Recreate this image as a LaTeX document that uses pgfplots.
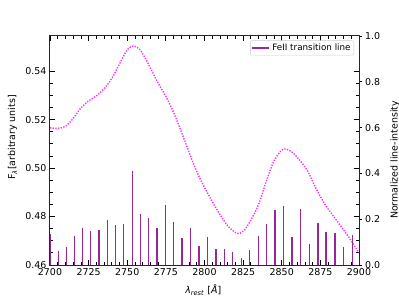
\documentclass[border=0pt]{standalone}
\usepackage{fontspec}
\setmainfont{DejaVu Sans}
\usepackage{pgfplots}
\pgfplotsset{compat=1.18}
\definecolor{barpurple}{RGB}{150,40,150}
\definecolor{curvemag}{RGB}{255,40,255}
\begin{document}
\begin{tikzpicture}
\path[use as bounding box] (-50bp,-34bp) rectangle (349bp,265bp);
\begin{axis}[
  at={(0,0)}, anchor=south west,
  scale only axis, width=309bp, height=229bp,
  xmin=2700, xmax=2900, ymin=0.46, ymax=0.5545,
  xtick={2700,2725,2750,2775,2800,2825,2850,2875,2900},
  ytick={0.46,0.48,0.50,0.52,0.54},
  minor x tick num=4, minor y tick num=3,
  tick align=inside, xtick pos=both, ytick pos=both,
  major tick length=5bp, minor tick length=3bp,
  every tick/.style={black, line width=0.8bp},
  axis line style={line width=1bp, black!85},
  /pgf/number format/assume math mode=true,
  ticklabel style={font=\fontsize{9.5}{11}\selectfont},
  yticklabel style={/pgf/number format/fixed, /pgf/number format/precision=2, /pgf/number format/fixed zerofill},
  xticklabel style={/pgf/number format/set thousands separator={}},
  label style={font=\fontsize{9.5}{11}\selectfont},
  ylabel={F\textsubscript{\textit{λ}}[arbitrary units]},
  ylabel style={at={(axis description cs:-0.121,0.557)}, anchor=center, rotate=0},
  xlabel={\textit{λ}\textsubscript{\textit{rest}} [\textit{Å}]},
  xlabel style={at={(axis description cs:0.496,-0.109)}, anchor=center},
]
\addplot[curvemag, line width=1.4bp, dash pattern=on 1.3bp off 1.4bp, smooth, tension=0.5] coordinates {
(2700,0.5166) (2705,0.5164) (2710,0.5172) (2715,0.5205) (2720,0.5248)
(2725,0.5277) (2730,0.5298) (2735,0.5328) (2740,0.5370) (2745,0.5430)
(2750,0.5488) (2754,0.5504) (2758,0.5490) (2762,0.5450) (2766,0.5400)
(2770,0.5350) (2775,0.5295) (2780,0.5230) (2785,0.5150) (2790,0.5065)
(2795,0.4985) (2800,0.4920) (2805,0.4862) (2810,0.4808) (2815,0.4762)
(2820,0.4734) (2823,0.4731) (2826,0.4746) (2830,0.4785) (2835,0.4850)
(2840,0.4945) (2845,0.5030) (2850,0.5074) (2853,0.5078) (2857,0.5064)
(2862,0.5030) (2867,0.4985) (2872,0.4918) (2878,0.4850) (2884,0.4797)
(2890,0.4745) (2895,0.4700) (2900,0.4650)
};
\end{axis}
\begin{axis}[
  at={(0,0)}, anchor=south west,
  scale only axis, width=309bp, height=229bp,
  xmin=2700, xmax=2900, ymin=0, ymax=1,
  axis y line*=right, axis x line=none,
  ytick={0,0.2,0.4,0.6,0.8,1.0},
  tick align=outside, major tick length=2.5bp,
  every tick/.style={black, line width=0.8bp},
  axis line style={line width=1bp, black!85},
  /pgf/number format/assume math mode=true,
  ticklabel style={font=\fontsize{9.5}{11}\selectfont},
  yticklabel style={/pgf/number format/fixed, /pgf/number format/precision=1, /pgf/number format/fixed zerofill},
  label style={font=\fontsize{9.5}{11}\selectfont},
  ylabel={Normalized line-intensity},
  ylabel style={at={(axis description cs:1.1165,0.459)}, anchor=center, rotate=0},
  legend style={at={(1,1)}, anchor=north east, xshift=-5bp, yshift=-4.5bp,
    font=\fontsize{8.8}{10}\selectfont, draw=black!20, rounded corners=2bp,
    inner sep=1.2bp, row sep=0pt},
  legend image code/.code={\draw[barpurple, line width=1.8bp] (0bp,0bp) -- (17bp,0bp);},
  clip=true,
]
\addplot[ycomb, barpurple, line width=1.5bp] coordinates {
(2700.3,0.135) (2705.4,0.061) (2710.8,0.079) (2716.0,0.128) (2721.1,0.162)
(2726.3,0.147) (2731.7,0.154) (2737.1,0.196) (2742.3,0.176) (2747.7,0.179)
(2753.3,0.409) (2758.5,0.221) (2763.9,0.205) (2769.3,0.163) (2774.6,0.261)
(2780.0,0.188) (2785.4,0.118) (2790.8,0.162) (2796.4,0.084) (2801.8,0.121)
(2807.3,0.069) (2812.8,0.068) (2818.2,0.058) (2823.8,0.032) (2829.2,0.067)
(2834.8,0.125) (2840.2,0.180) (2845.6,0.240) (2851.0,0.259) (2856.6,0.122)
(2862.0,0.246) (2867.8,0.090) (2873.5,0.185) (2878.8,0.146) (2884.5,0.140)
(2890.1,0.080) (2895.7,0.132)
};
\addlegendentry{FeII transition line}
\end{axis}
\end{tikzpicture}
\end{document}
